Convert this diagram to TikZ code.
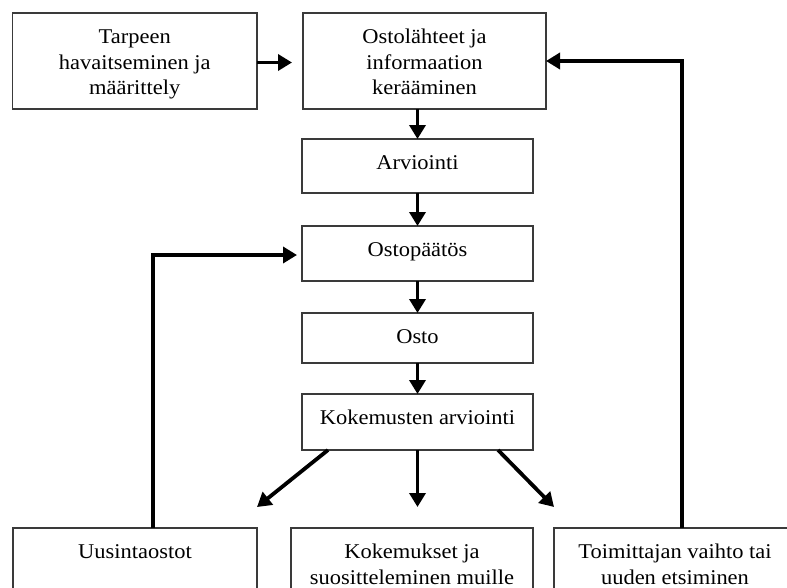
\documentclass[tikz,border=0pt]{standalone}
\usepackage{fontspec}
\setmainfont{Liberation Serif}[FakeStretch=1.07]
\usetikzlibrary{arrows.meta,calc}

\definecolor{frame}{HTML}{3A3A3A}

% centred text block of fixed size, first baseline 30pt below the top edge
\newcommand{\boxlines}[3]{\parbox[t][#2][t]{#1}{\centering\fontsize{21}{25.5}\selectfont\rule{0pt}{30.5pt}#3\par}}

\tikzset{
  stage/.style={draw=frame, line width=1.3pt, inner sep=0pt, outer sep=0pt, fill=white},
  flow/.style={line width=3.8pt, black, -{Triangle[length=14pt,width=16pt]}}
}

\begin{document}
\begin{tikzpicture}[x=1pt, y=-1pt]
  \useasboundingbox (0,0) rectangle (787,587);
  \clip (0,0) rectangle (787,587);
  \fill[white] (0,0) rectangle (787,587);

  % process stages
  \node[stage] (b1) at (134.75,61) {\boxlines{244.5pt}{96pt}{Tarpeen\\havaitseminen ja\\määrittely}};
  \node[stage] (b2) at (424.5,61) {\boxlines{243pt}{96pt}{Ostolähteet ja\\informaation\\kerääminen}};
  \node[stage] (b3) at (417.5,166) {\boxlines{231pt}{54pt}{Arviointi}};
  \node[stage] (b4) at (417.5,253.5) {\boxlines{231pt}{55pt}{Ostopäätös}};
  \node[stage] (b5) at (417.5,338) {\boxlines{231pt}{50pt}{Osto}};
  \node[stage] (b6) at (417.5,422) {\boxlines{231pt}{56pt}{Kokemusten arviointi}};

  % outcomes
  \node[stage] (b7) at (135,563) {\boxlines{244pt}{70pt}{Uusintaostot}};
  \node[stage] (b8) at (412,563) {\boxlines{242pt}{70pt}{Kokemukset ja\\suositteleminen muille}};
  \node[stage] (b9) at (675,563) {\boxlines{242pt}{70pt}{Toimittajan vaihto tai\\uuden etsiminen}};

  % main chain
  \draw[flow, shorten >=11pt] ($(b1.east)+(0,1.5)$) -- ($(b2.west)+(0,1.5)$);
  \draw[flow] (b3.north |- b2.south) -- (b3.north);
  \draw[flow] (b3.south) -- (b4.north);
  \draw[flow] (b4.south) -- (b5.north);
  \draw[flow] (b5.south) -- (b6.north);

  % branches after evaluation
  \draw[flow] ($(b6.south west)+(26,0)$) -- ($(b7.north east)+(0,-21)$);
  \draw[flow] (b6.south) -- ($(b6.south |- b8.north)+(0,-21)$);
  \draw[flow] ($(b6.south east)+(-35,0)$) -- ($(b9.north west)+(0,-21)$);

  % feedback loops
  \draw[flow, shorten >=5pt] ($(b7.north west)+(140,0)$) |- ($(b4.west)+(0,1.5)$);
  \draw[flow] ($(b9.north west)+(128,0)$) |- (b2.east);
\end{tikzpicture}
\end{document}
